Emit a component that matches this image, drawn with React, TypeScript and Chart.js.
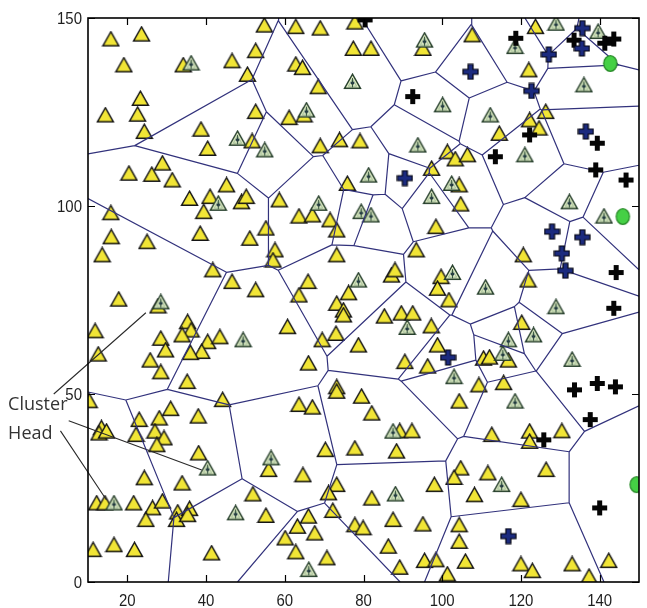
import React, { useEffect, useRef } from "react";
import { Chart, registerables } from "chart.js";

Chart.register(...registerables);

type P = [number, number];

// ---- axes ----
const xRange: P = [10, 150];
const yRange: P = [0, 150];
const xTickValues = [20, 40, 60, 80, 100, 120, 140];
const yTickValues = [0, 50, 100, 150];

// ---- ordinary (alive) nodes: yellow triangles ----
const normalNodes: P[] = [
  [15.8, 144.4], [23.6, 145.7], [19.1, 137.5], [34.2, 137.5], [46.6, 138.6], [52.6, 141.3],
  [54.8, 148.1], [62.8, 147.7], [69.0, 147.3], [77.8, 148.9], [77.4, 141.9], [50.5, 135.0],
  [62.8, 137.7], [64.5, 136.8], [68.5, 131.7], [23.3, 128.6], [14.4, 124.2], [22.6, 124.4],
  [24.3, 119.8], [38.7, 120.4], [40.4, 115.3], [52.6, 125.1], [61.1, 123.5], [64.9, 124.2],
  [51.7, 117.3], [69.0, 116.0], [73.9, 117.6], [79.1, 117.3], [28.9, 111.4], [20.4, 108.7],
  [26.2, 108.4], [31.4, 106.9], [45.2, 105.6], [35.8, 102.0], [41.0, 102.5], [49.0, 101.1],
  [50.2, 102.5], [58.6, 101.6], [75.9, 106.0],
  [81.9, 141.9], [95.1, 141.9], [107.6, 145.5], [123.7, 147.7], [122.0, 136.2], [114.5, 119.3],
  [122.2, 122.9], [124.6, 120.7], [126.3, 125.1], [101.3, 114.4], [103.3, 112.5], [106.4, 113.6],
  [97.3, 110.0], [104.3, 105.6], [104.7, 100.5],
  [15.8, 98.2], [15.9, 91.8], [13.6, 87.0], [25.0, 90.5], [39.4, 98.5], [38.5, 92.7],
  [51.1, 91.4], [55.2, 94.1], [57.5, 88.3], [57.0, 85.6], [41.7, 83.0], [46.6, 79.9],
  [52.6, 77.7], [63.6, 97.3], [67.0, 97.6], [71.5, 96.3], [73.2, 93.6], [73.2, 87.0],
  [65.9, 79.9], [63.6, 76.3], [76.2, 76.9], [73.2, 74.1], [74.9, 72.3], [74.9, 71.0],
  [17.8, 75.2], [27.8, 73.4], [11.8, 66.8], [12.6, 60.6], [35.3, 69.2], [36.2, 67.0],
  [33.9, 65.7], [28.5, 64.8], [29.7, 61.7], [25.8, 59.0], [28.5, 55.9], [40.4, 63.9],
  [43.5, 65.2], [38.9, 61.3], [36.0, 61.0], [35.2, 53.3], [60.7, 67.9], [69.5, 64.4],
  [73.0, 66.1], [78.7, 63.0], [66.0, 58.2], [73.2, 51.9],
  [98.4, 94.5], [93.4, 88.3], [120.6, 87.0], [121.8, 80.3], [87.1, 81.6], [88.0, 83.0],
  [99.7, 81.2], [98.8, 78.1], [101.7, 75.0], [85.3, 70.7], [89.6, 71.5], [92.5, 71.5],
  [97.2, 68.1], [98.8, 63.0], [90.5, 58.6], [96.3, 57.4], [109.3, 52.4], [115.6, 53.0],
  [120.2, 69.0], [110.5, 59.5], [112.0, 59.8], [116.8, 59.0],
  [10.3, 48.2], [23.0, 43.2], [28.1, 43.6], [31.0, 46.1], [38.0, 44.1], [44.2, 48.5],
  [13.4, 41.0], [12.8, 39.6], [14.7, 40.1], [22.2, 39.2], [27.0, 40.1], [29.3, 38.3],
  [27.5, 36.5], [38.1, 34.3], [24.3, 27.7], [33.9, 26.3], [12.2, 21.0], [14.3, 21.0],
  [21.6, 21.0], [26.4, 19.7], [28.9, 21.5], [24.7, 16.6], [32.8, 18.6], [35.8, 19.5],
  [32.5, 16.6], [35.3, 17.9], [11.3, 8.6], [16.6, 9.9], [21.8, 8.6], [41.4, 7.7],
  [63.6, 47.2], [67.0, 46.5], [73.2, 50.7], [79.5, 49.4], [70.3, 35.2], [77.8, 35.6],
  [55.9, 29.9], [64.6, 28.5], [51.9, 23.4], [55.2, 17.7], [73.2, 25.9], [71.1, 23.7],
  [72.2, 19.0], [66.0, 17.5], [63.2, 14.8], [67.6, 13.0], [60.1, 11.7], [62.8, 8.0],
  [70.7, 6.4], [77.8, 15.2], [79.9, 14.4],
  [82.1, 44.9], [104.3, 48.1], [89.2, 40.2], [92.3, 40.2], [88.4, 34.8], [112.6, 39.2],
  [122.2, 40.1], [122.2, 37.4], [130.4, 40.2], [104.7, 30.3], [103.0, 27.8], [111.6, 29.0],
  [126.4, 29.9], [108.2, 23.2], [120.0, 21.9], [98.0, 25.9], [82.1, 22.3], [87.5, 16.6],
  [95.1, 15.4], [104.3, 15.2], [104.3, 10.8], [86.3, 9.5], [95.5, 5.7], [98.4, 5.9],
  [105.9, 5.5], [101.3, 2.1], [89.2, 3.9], [120.0, 4.8], [122.9, 3.0], [133.0, 4.8],
  [137.3, 1.5], [142.3, 5.7],
];

// ---- cluster heads: dotted triangles (Voronoi sites) ----
const clusterHeads: P[] = [
  [36.2, 138.0], [77.2, 133.1], [65.5, 125.5], [48.0, 118.0], [54.9, 114.9], [43.1, 100.7],
  [68.6, 100.7], [79.4, 98.5], [81.9, 97.6], [95.5, 144.1], [100.1, 126.9], [128.9, 148.6],
  [118.5, 142.4], [139.6, 146.4], [136.0, 132.2], [112.2, 124.2], [121.0, 113.6], [93.8, 116.2],
  [81.3, 108.2], [102.4, 106.0], [97.3, 102.5], [132.3, 101.1], [78.7, 80.3], [28.5, 74.5],
  [49.4, 64.4], [141.1, 97.3], [102.6, 82.3], [111.0, 78.4], [128.9, 73.2], [91.1, 67.7],
  [103.0, 54.6], [123.2, 65.7], [116.8, 64.4], [115.4, 60.8], [133.0, 59.2], [40.4, 30.3],
  [16.6, 21.0], [56.5, 33.0], [47.5, 18.4], [66.1, 3.3], [118.5, 48.1], [87.5, 40.1],
  [115.1, 25.9], [88.1, 23.4],
];

// ---- dead nodes: black crosses ----
const deadNodes: P[] = [
  [80.4, 149.5], [92.5, 129.1], [118.7, 144.6], [133.5, 144.1], [141.3, 143.3], [143.6, 144.4],
  [122.2, 118.9], [139.4, 116.7], [113.5, 113.1], [139.0, 109.6], [146.7, 106.9], [144.2, 82.3],
  [143.6, 72.8], [133.6, 51.1], [139.4, 52.8], [144.0, 51.9], [137.6, 43.2], [125.8, 37.8],
  [140.0, 19.7],
];

// ---- advanced nodes: blue crosses (those heading a cell, and the others) ----
const advancedHeads: P[] = [
  [107.2, 135.7], [135.5, 141.9], [136.5, 119.8], [90.5, 107.4], [127.9, 93.2], [135.6, 91.7],
  [101.5, 59.7], [116.8, 12.2],
];
const advancedOthers: P[] = [
  [127.1, 140.3], [135.6, 147.3], [122.7, 130.6], [130.4, 87.4], [131.3, 82.8],
];

// ---- super nodes: green circles ----
const superNodes: P[] = [[142.7, 137.9], [145.9, 97.2]];
const superHeads: P[] = [[149.4, 25.9]];

// ---- "Cluster Head" callout ----
const calloutLines: P[][] = [
  [[1.3, 50.0], [24.7, 71.6]],
  [[5.1, 42.9], [38.9, 29.8]],
  [[3.0, 40.2], [14.7, 21.8]],
];
const calloutWords = ["Cluster", "Head"];
const calloutAt: P[] = [[-10.3, 47.1], [-10.3, 39.4]];

// Voronoi sites = every cell generator
const voronoiSites: P[] = [...clusterHeads, ...advancedHeads, ...superHeads];

function clipHalf(poly: P[], a: number, b: number, c: number): P[] {
  const out: P[] = [];
  for (let k = 0; k < poly.length; k++) {
    const p = poly[k];
    const q = poly[(k + 1) % poly.length];
    const fp = a * p[0] + b * p[1] - c;
    const fq = a * q[0] + b * q[1] - c;
    if (fp <= 0) out.push(p);
    if ((fp < 0 && fq > 0) || (fp > 0 && fq < 0)) {
      const t = fp / (fp - fq);
      out.push([p[0] + t * (q[0] - p[0]), p[1] + t * (q[1] - p[1])]);
    }
  }
  return out;
}

function voronoiEdges(sites: P[]): P[][] {
  const [x0, x1] = xRange;
  const [y0, y1] = yRange;
  const eps = 1e-7;
  const edges: P[][] = [];
  sites.forEach((s, i) => {
    let poly: P[] = [[x0, y0], [x1, y0], [x1, y1], [x0, y1]];
    sites.forEach((t, j) => {
      if (i === j) return;
      const dx = t[0] - s[0];
      const dy = t[1] - s[1];
      if (dx === 0 && dy === 0) return;
      const c = ((t[0] + s[0]) / 2) * dx + ((t[1] + s[1]) / 2) * dy;
      poly = clipHalf(poly, dx, dy, c);
    });
    for (let k = 0; k < poly.length; k++) {
      const p = poly[k];
      const q = poly[(k + 1) % poly.length];
      const onBox =
        (Math.abs(p[0] - x0) < eps && Math.abs(q[0] - x0) < eps) ||
        (Math.abs(p[0] - x1) < eps && Math.abs(q[0] - x1) < eps) ||
        (Math.abs(p[1] - y0) < eps && Math.abs(q[1] - y0) < eps) ||
        (Math.abs(p[1] - y1) < eps && Math.abs(q[1] - y1) < eps);
      if (onBox) continue;
      const m: P = [(p[0] + q[0]) / 2, (p[1] + q[1]) / 2];
      let best = -1;
      let bd = Infinity;
      sites.forEach((t, j) => {
        if (j === i) return;
        const d = (t[0] - m[0]) ** 2 + (t[1] - m[1]) ** 2;
        if (d < bd) { bd = d; best = j; }
      });
      if (best > i) edges.push([p, q]);
    }
  });
  return edges;
}

function segmentsToData(segs: P[][]) {
  const out: { x: number; y: number | null }[] = [];
  segs.forEach((seg) => {
    seg.forEach((p) => out.push({ x: p[0], y: p[1] }));
    const last = seg[seg.length - 1];
    out.push({ x: last[0], y: null });
  });
  return out;
}

const toXY = (arr: P[]) => arr.map((p) => ({ x: p[0], y: p[1] }));

function makeCanvas(w: number, h: number) {
  const c = document.createElement("canvas");
  c.width = w;
  c.height = h;
  return c;
}

function triangleSprite(fill: string, stroke: string, head: boolean) {
  const c = makeCanvas(19, 17);
  const g = c.getContext("2d")!;
  g.beginPath();
  g.moveTo(9.5, 1.2);
  g.lineTo(17.5, 15.3);
  g.lineTo(1.5, 15.3);
  g.closePath();
  g.fillStyle = fill;
  g.fill();
  g.lineWidth = 1.4;
  g.strokeStyle = stroke;
  g.stroke();
  if (head) {
    g.beginPath();
    g.moveTo(9.5, 5.6);
    g.lineTo(13.6, 13.2);
    g.lineTo(5.4, 13.2);
    g.closePath();
    g.lineWidth = 0.7;
    g.strokeStyle = "#86a886";
    g.stroke();
    g.beginPath();
    g.moveTo(9.5, 7.4);
    g.lineTo(11.6, 9.9);
    g.lineTo(9.5, 12.4);
    g.lineTo(7.4, 9.9);
    g.closePath();
    g.fillStyle = "#1a2e44";
    g.fill();
    g.beginPath();
    g.moveTo(9.5, 5);
    g.lineTo(9.5, 14.3);
    g.lineWidth = 0.9;
    g.strokeStyle = "#2a4a38";
    g.stroke();
  }
  return c;
}

function crossSprite(fill: string, stroke: string | null) {
  const c = makeCanvas(17, 17);
  const g = c.getContext("2d")!;
  const a = 1, b = 6, d = 11, e = 16;
  g.beginPath();
  g.moveTo(b, a); g.lineTo(d, a); g.lineTo(d, b); g.lineTo(e, b); g.lineTo(e, d);
  g.lineTo(d, d); g.lineTo(d, e); g.lineTo(b, e); g.lineTo(b, d); g.lineTo(a, d);
  g.lineTo(a, b); g.lineTo(b, b); g.closePath();
  g.fillStyle = fill;
  g.fill();
  if (stroke) {
    g.lineWidth = 1.2;
    g.strokeStyle = stroke;
    g.stroke();
  }
  return c;
}

function circleSprite() {
  const c = makeCanvas(17, 19);
  const g = c.getContext("2d")!;
  g.beginPath();
  g.ellipse(8.5, 9.5, 6.6, 7.8, 0, 0, Math.PI * 2);
  g.fillStyle = "#45d045";
  g.fill();
  g.lineWidth = 1.3;
  g.strokeStyle = "#2a8c2a";
  g.stroke();
  return c;
}

const TICK_FONT = '17px "Liberation Sans", Arial, sans-serif';
const TICK_SQUEEZE = 0.88;

export default function App() {
  const ref = useRef<HTMLCanvasElement | null>(null);

  useEffect(() => {
    if (!ref.current) return;
    const tri = triangleSprite("#f1e536", "#151515", false);
    const headTri = triangleSprite("#e3efc6", "#263f2c", true);
    const blackCross = crossSprite("#050505", null);
    const blueCross = crossSprite("#1b2a7e", "#050510");
    const greenDot = circleSprite();

    const frame = {
      id: "frame",
      afterDraw(chart: any) {
        const { ctx, chartArea: a, scales } = chart;
        const xs = scales.x;
        const ys = scales.y;
        ctx.save();
        ctx.strokeStyle = "#000";
        ctx.lineWidth = 1.6;
        ctx.strokeRect(a.left, a.top, a.right - a.left, a.bottom - a.top);
        ctx.lineWidth = 1.2;
        ctx.beginPath();
        const tl = 7;
        xTickValues.forEach((v) => {
          const px = Math.round(xs.getPixelForValue(v)) + 0.5;
          ctx.moveTo(px, a.bottom); ctx.lineTo(px, a.bottom - tl);
          ctx.moveTo(px, a.top); ctx.lineTo(px, a.top + tl);
        });
        yTickValues.forEach((v) => {
          const py = Math.round(ys.getPixelForValue(v)) + 0.5;
          ctx.moveTo(a.left, py); ctx.lineTo(a.left + tl, py);
          ctx.moveTo(a.right, py); ctx.lineTo(a.right - tl, py);
        });
        ctx.stroke();

        // tick labels (condensed, like the original narrow face)
        ctx.fillStyle = "#1e1e1e";
        ctx.font = TICK_FONT;
        ctx.textBaseline = "middle";
        yTickValues.forEach((v) => {
          ctx.save();
          ctx.translate(a.left - 6, ys.getPixelForValue(v) + 1);
          ctx.scale(TICK_SQUEEZE, 1);
          ctx.textAlign = "right";
          ctx.fillText(String(v), 0, 0);
          ctx.restore();
        });
        xTickValues.forEach((v) => {
          ctx.save();
          ctx.translate(xs.getPixelForValue(v), a.bottom + 19);
          ctx.scale(TICK_SQUEEZE, 1);
          ctx.textAlign = "center";
          ctx.fillText(String(v), 0, 0);
          ctx.restore();
        });

        ctx.fillStyle = "#333";
        ctx.font = '18px "Open Sans", "Noto Sans", sans-serif';
        ctx.textAlign = "left";
        ctx.textBaseline = "middle";
        calloutWords.forEach((w, i) => {
          ctx.fillText(w, xs.getPixelForValue(calloutAt[i][0]), ys.getPixelForValue(calloutAt[i][1]));
        });
        ctx.restore();
      },
    };

    const markerBase = { showLine: false, pointRadius: 8, pointHoverRadius: 8, borderWidth: 0 };

    const chart = new Chart(ref.current, {
      type: "scatter",
      data: {
        datasets: [
          { ...markerBase, label: "nodes", data: toXY(normalNodes), pointStyle: tri as any, order: 5 },
          { ...markerBase, label: "cluster heads", data: toXY(clusterHeads), pointStyle: headTri as any, order: 4 },
          {
            label: "voronoi",
            data: segmentsToData(voronoiEdges(voronoiSites)) as any,
            showLine: true,
            spanGaps: false,
            pointRadius: 0,
            pointHoverRadius: 0,
            borderColor: "#32327c",
            borderWidth: 1.2,
            order: 3,
          },
          {
            label: "callout",
            data: segmentsToData(calloutLines) as any,
            showLine: true,
            spanGaps: false,
            pointRadius: 0,
            pointHoverRadius: 0,
            borderColor: "#2a2a2a",
            borderWidth: 1.1,
            clip: false as any,
            order: 3,
          },
          { ...markerBase, label: "dead", data: toXY(deadNodes), pointStyle: blackCross as any, order: 2 },
          { ...markerBase, label: "adv heads", data: toXY(advancedHeads), pointStyle: blueCross as any, order: 1 },
          { ...markerBase, label: "adv", data: toXY(advancedOthers), pointStyle: blueCross as any, order: 1 },
          { ...markerBase, label: "super", data: toXY([...superNodes, ...superHeads]), pointStyle: greenDot as any, order: 0 },
        ],
      },
      options: {
        animation: false,
        responsive: false,
        devicePixelRatio: 1,
        events: [],
        layout: { padding: { top: 18, right: 1, left: 0, bottom: 0 } },
        plugins: { legend: { display: false }, tooltip: { enabled: false } },
        scales: {
          x: {
            type: "linear",
            min: xRange[0],
            max: xRange[1],
            grid: { display: false },
            border: { display: false },
            ticks: { display: false },
            afterBuildTicks: (s: any) => { s.ticks = xTickValues.map((value) => ({ value })); },
            afterFit: (s: any) => { s.height = 26; },
          },
          y: {
            type: "linear",
            min: yRange[0],
            max: yRange[1],
            grid: { display: false },
            border: { display: false },
            ticks: { display: false },
            afterBuildTicks: (s: any) => { s.ticks = yTickValues.map((value) => ({ value })); },
            afterFit: (s: any) => { s.width = 88; },
          },
        },
      },
      plugins: [frame],
    });
    return () => chart.destroy();
  }, []);

  return (
    <div style={{ position: "absolute", left: 0, top: 0, width: 647, height: 608, background: "#fff" }}>
      <canvas ref={ref} width={647} height={608} />
    </div>
  );
}
